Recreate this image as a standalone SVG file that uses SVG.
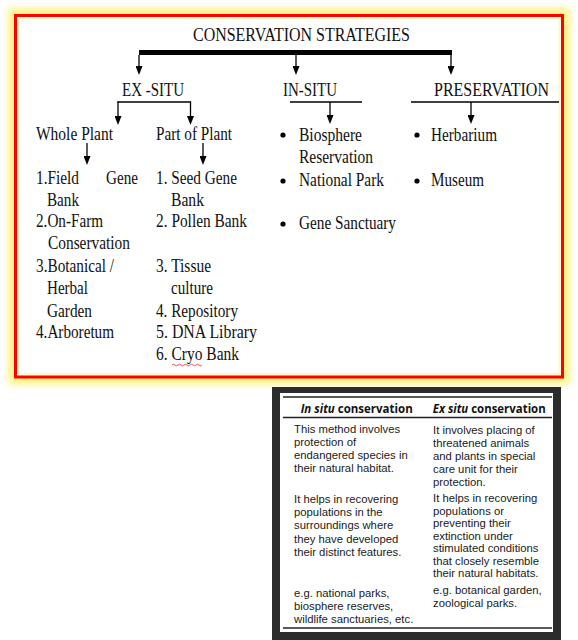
<svg xmlns="http://www.w3.org/2000/svg" width="578" height="640" viewBox="0 0 578 640">
<defs>
<filter id="glow" x="-10%" y="-10%" width="120%" height="120%"><feGaussianBlur stdDeviation="3.5"/></filter>
<marker id="ah" markerUnits="userSpaceOnUse" markerWidth="9" markerHeight="7" refX="0" refY="3.5" orient="auto" viewBox="0 0 9 7">
<path d="M0,0 L9,3.5 L0,7 Z" fill="#000"/>
</marker>
<style>
.s{font-family:"Liberation Serif","Times New Roman",serif;font-size:18px;fill:#111}
.b{font-family:"Liberation Sans",Arial,sans-serif;font-size:11.3px;fill:#1a1a1a}
.h{font-family:"Open Sans","Noto Sans",sans-serif;font-size:12px;font-weight:bold;fill:#111}
.ln{stroke:#000;stroke-width:1.3;fill:none}
.ar{stroke:#000;stroke-width:1.3;fill:none;marker-end:url(#ah)}
.rule{stroke:#222;stroke-width:1.3}
</style>
</defs>
<rect width="578" height="640" fill="#fff"/>
<!-- frame -->
<rect x="15.5" y="15.5" width="547" height="361.5" fill="none" stroke="#fff27a" stroke-width="14" filter="url(#glow)"/>
<rect x="17" y="17" width="544" height="358.5" fill="#fff"/>
<rect x="18.5" y="18.5" width="541" height="355.5" fill="none" stroke="#fff8c4" stroke-width="2"/>
<rect x="15.5" y="15.5" width="547" height="361.5" fill="none" stroke="#ff0000" stroke-width="3"/>

<g id="connectors">
<line x1="139" y1="52.5" x2="452" y2="52.5" stroke="#000" stroke-width="5"/>
<line class="ar" x1="139" y1="55" x2="139" y2="66"/>
<line class="ar" x1="296" y1="55" x2="296" y2="66"/>
<line class="ar" x1="451" y1="55" x2="451" y2="66"/>
<line class="ln" x1="117.4" y1="102" x2="191.1" y2="102"/>
<line class="ar" x1="118" y1="101.5" x2="118" y2="116"/>
<line class="ar" x1="190.5" y1="101.5" x2="190.5" y2="116"/>
<line class="ln" x1="290" y1="102" x2="362" y2="102"/>
<line class="ar" x1="330" y1="102" x2="330" y2="115"/>
<line class="ln" x1="411" y1="102" x2="559" y2="102"/>
<line class="ar" x1="471" y1="102" x2="471" y2="115"/>
<line class="ar" x1="87" y1="143" x2="87" y2="156"/>
<line class="ar" x1="203" y1="143" x2="203" y2="156"/>
</g>

<g id="title"><text class="s" x="193" y="41" textLength="217" lengthAdjust="spacingAndGlyphs">CONSERVATION STRATEGIES</text></g>
<g id="exsitu"><text class="s" x="122" y="96" textLength="62" lengthAdjust="spacingAndGlyphs">EX -SITU</text></g>
<g id="insitu"><text class="s" x="283" y="96" textLength="54" lengthAdjust="spacingAndGlyphs">IN-SITU</text></g>
<g id="preservation"><text class="s" x="434" y="96" textLength="115" lengthAdjust="spacingAndGlyphs">PRESERVATION</text></g>
<g id="whole-plant"><text class="s" x="36" y="140" textLength="77" lengthAdjust="spacingAndGlyphs">Whole Plant</text></g>
<g id="part-of-plant"><text class="s" x="156" y="140" textLength="76" lengthAdjust="spacingAndGlyphs">Part of Plant</text></g>

<g id="whole-plant-list">
<text class="s" x="36" y="184" textLength="43" lengthAdjust="spacingAndGlyphs">1.Field</text>
<text class="s" x="106" y="184" textLength="32" lengthAdjust="spacingAndGlyphs">Gene</text>
<text class="s" x="47" y="206" textLength="32" lengthAdjust="spacingAndGlyphs">Bank</text>
<text class="s" x="36" y="227" textLength="67" lengthAdjust="spacingAndGlyphs">2.On-Farm</text>
<text class="s" x="48" y="249" textLength="82" lengthAdjust="spacingAndGlyphs">Conservation</text>
<text class="s" x="36" y="272" textLength="78" lengthAdjust="spacingAndGlyphs">3.Botanical /</text>
<text class="s" x="47" y="294" textLength="41" lengthAdjust="spacingAndGlyphs">Herbal</text>
<text class="s" x="47" y="317" textLength="45" lengthAdjust="spacingAndGlyphs">Garden</text>
<text class="s" x="36" y="338" textLength="78" lengthAdjust="spacingAndGlyphs">4.Arboretum</text>
</g>

<g id="part-of-plant-list">
<text class="s" x="156" y="184" textLength="81" lengthAdjust="spacingAndGlyphs">1. Seed Gene</text>
<text class="s" x="171" y="206" textLength="33" lengthAdjust="spacingAndGlyphs">Bank</text>
<text class="s" x="156" y="227" textLength="91" lengthAdjust="spacingAndGlyphs">2. Pollen Bank</text>
<text class="s" x="156" y="272" textLength="55" lengthAdjust="spacingAndGlyphs">3. Tissue</text>
<text class="s" x="171" y="294" textLength="42" lengthAdjust="spacingAndGlyphs">culture</text>
<text class="s" x="156" y="317" textLength="82" lengthAdjust="spacingAndGlyphs">4. Repository</text>
<text class="s" x="156" y="338" textLength="101" lengthAdjust="spacingAndGlyphs">5. DNA  Library</text>
<text class="s" x="156" y="360" textLength="83" lengthAdjust="spacingAndGlyphs">6. Cryo Bank</text>
<path d="M172,365 q1.5,-1.6 3,0 t3,0 t3,0 t3,0 t3,0 t3,0 t3,0 t3,0 t3,0 t3,0" fill="none" stroke="#e03030" stroke-width="0.8"/>
</g>

<g id="insitu-list">
<circle cx="283" cy="135" r="2.6" fill="#000"/>
<circle cx="283" cy="181" r="2.6" fill="#000"/>
<circle cx="283" cy="224" r="2.6" fill="#000"/>
<text class="s" x="299" y="140.5" textLength="63" lengthAdjust="spacingAndGlyphs">Biosphere</text>
<text class="s" x="299" y="162.5" textLength="74" lengthAdjust="spacingAndGlyphs">Reservation</text>
<text class="s" x="299" y="186" textLength="85" lengthAdjust="spacingAndGlyphs">National Park</text>
<text class="s" x="299" y="229" textLength="97" lengthAdjust="spacingAndGlyphs">Gene Sanctuary</text>
</g>

<g id="preservation-list">
<circle cx="417" cy="135" r="2.6" fill="#000"/>
<circle cx="417" cy="181" r="2.6" fill="#000"/>
<text class="s" x="431" y="140.5" textLength="66" lengthAdjust="spacingAndGlyphs">Herbarium</text>
<text class="s" x="431" y="186" textLength="53" lengthAdjust="spacingAndGlyphs">Museum</text>
</g>

<g id="comparison-table">
<rect x="272" y="387" width="289" height="260" fill="#2c2c2c"/>
<rect x="280" y="393" width="273" height="239" fill="#fff"/>
<line class="rule" x1="283" y1="397" x2="552" y2="397"/>
<line class="rule" x1="283" y1="417.5" x2="552" y2="417.5"/>
<line class="rule" x1="283" y1="628" x2="552" y2="628"/>
<text class="h" x="300.7" y="413" textLength="112" lengthAdjust="spacingAndGlyphs"><tspan font-style="italic">In situ</tspan> conservation</text>
<text class="h" x="432.7" y="413" textLength="113" lengthAdjust="spacingAndGlyphs"><tspan font-style="italic">Ex situ</tspan> conservation</text>
<text class="b" x="294" y="433">This method involves</text>
<text class="b" x="294" y="446">protection of</text>
<text class="b" x="294" y="459">endangered species in</text>
<text class="b" x="294" y="472">their natural habitat.</text>
<text class="b" x="294" y="503">It helps in recovering</text>
<text class="b" x="294" y="516">populations in the</text>
<text class="b" x="294" y="529">surroundings where</text>
<text class="b" x="294" y="543">they have developed</text>
<text class="b" x="294" y="556">their distinct features.</text>
<text class="b" x="294" y="597">e.g. national parks,</text>
<text class="b" x="294" y="610">biosphere reserves,</text>
<text class="b" x="294" y="623">wildlife sanctuaries, etc.</text>
<text class="b" x="433" y="434">It involves placing of</text>
<text class="b" x="433" y="447">threatened animals</text>
<text class="b" x="433" y="460">and plants in special</text>
<text class="b" x="433" y="473">care unit for their</text>
<text class="b" x="433" y="485.5">protection.</text>
<text class="b" x="433" y="502">It helps in recovering</text>
<text class="b" x="433" y="514.5">populations or</text>
<text class="b" x="433" y="527">preventing their</text>
<text class="b" x="433" y="539.5">extinction under</text>
<text class="b" x="433" y="552">stimulated conditions</text>
<text class="b" x="433" y="564.5">that closely resemble</text>
<text class="b" x="433" y="577">their natural habitats.</text>
<text class="b" x="433" y="594">e.g. botanical garden,</text>
<text class="b" x="433" y="607">zoological parks.</text>
</g>
</svg>
